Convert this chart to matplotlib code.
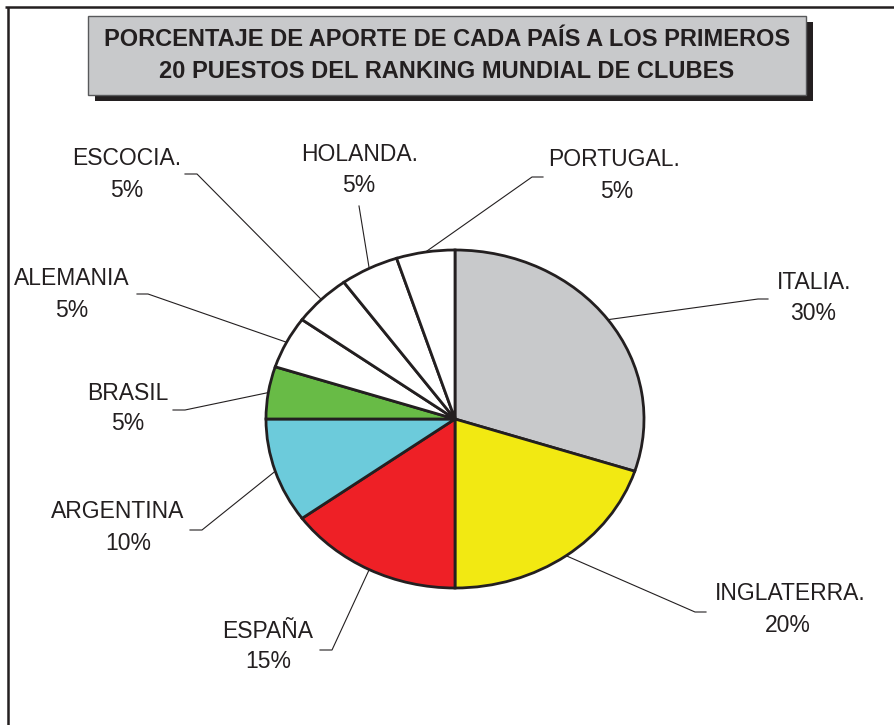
import numpy as np
import matplotlib
matplotlib.use("Agg")
import matplotlib.pyplot as plt
from matplotlib.patches import Rectangle

# Datos
paises = ["ITALIA.", "INGLATERRA.", "ESPAÑA", "ARGENTINA", "BRASIL",
          "ALEMANIA", "ESCOCIA.", "HOLANDA.", "PORTUGAL."]
porcentajes = [30, 20, 15, 10, 5, 5, 5, 5, 5]
colores = ["#c8c9cb", "#f2e912", "#ee2026", "#6ccbdb", "#68bb46",
           "#ffffff", "#ffffff", "#ffffff", "#ffffff"]
titulo = ("PORCENTAJE DE APORTE DE CADA PAÍS A LOS PRIMEROS\n"
          "20 PUESTOS DEL RANKING MUNDIAL DE CLUBES")

# Posiciones (pixeles) de las etiquetas: nombre (x, y), porcentaje (x, y), codo, fin de la linea
pos_nombre = [(814, 282), (790, 594), (268, 632), (118, 512), (128, 393),
              (72, 278), (127, 158), (360, 154), (614, 159)]
pos_pct = [(813, 313), (788, 626), (268, 662), (128, 544), (128, 423),
           (72, 310), (127, 190), (359, 185), (617, 191)]
codos = [(758, 299), (695, 612), (332, 650), (202, 530), (185, 410),
         (148, 294), (197, 174), (359, 206), (532, 177)]
finales = [(768, 299), (706, 612), (320, 650), (190, 530), (173, 410),
           (137, 294), (185, 174), (359, 206), (543, 177)]

W, H = 895, 725
cx, cy, rx, ry = 455, 419, 189, 169
m = 1.015  # margen para que no se corte el borde
oscuro = "#231f20"

plt.rcParams['font.family'] = ['Liberation Sans', 'DejaVu Sans']

fig = plt.figure(figsize=(W / 100, H / 100), dpi=100)
fondo = fig.add_axes([0, 0, 1, 1])
fondo.set_xlim(0, W)
fondo.set_ylim(H, 0)
fondo.axis("off")

# Marco
fondo.plot([5, W], [7, 7], color=oscuro, lw=1.8, solid_capstyle="butt")
fondo.plot([8, 8], [7, H], color=oscuro, lw=1.8, solid_capstyle="butt")

# Caja del titulo con sombra
fondo.add_patch(Rectangle((95, 22), 718, 79, facecolor=oscuro, edgecolor="none"))
fondo.add_patch(Rectangle((88, 16), 718, 79, facecolor="#c8c9cb",
                          edgecolor="#58595b", lw=1.0))
lineas = titulo.split("\n")
fondo.text(447, 39, lineas[0], ha="center", va="center", fontsize=17,
           fontweight="bold", color=oscuro)
fondo.text(447, 71, lineas[1], ha="center", va="center", fontsize=17,
           fontweight="bold", color=oscuro)

# Torta eliptica
ax = fig.add_axes([(cx - rx * m) / W, 1 - (cy + ry * m) / H,
                   2 * rx * m / W, 2 * ry * m / H])
wedges, _ = ax.pie(porcentajes, colors=colores, startangle=90, counterclock=False,
                   radius=1, wedgeprops=dict(edgecolor=oscuro, linewidth=2.0))
ax.set_aspect("auto")
ax.set_xlim(-m, m)
ax.set_ylim(-m, m)
ax.axis("off")

# Etiquetas con lineas guia
for w, nombre, pct, pn, pp, cd, fn in zip(wedges, paises, porcentajes,
                                          pos_nombre, pos_pct, codos, finales):
    ang = np.deg2rad((w.theta1 + w.theta2) / 2)
    x0 = cx + rx * np.cos(ang)
    y0 = cy - ry * np.sin(ang)
    fondo.plot([x0, cd[0], fn[0]], [y0, cd[1], fn[1]], color=oscuro, lw=0.8)
    fondo.text(pn[0], pn[1], nombre, ha="center", va="center", fontsize=16.5,
               color=oscuro)
    fondo.text(pp[0], pp[1], f"{pct}%", ha="center", va="center", fontsize=16.5,
               color=oscuro)

fig.savefig("out.png", dpi=100, facecolor="white")
